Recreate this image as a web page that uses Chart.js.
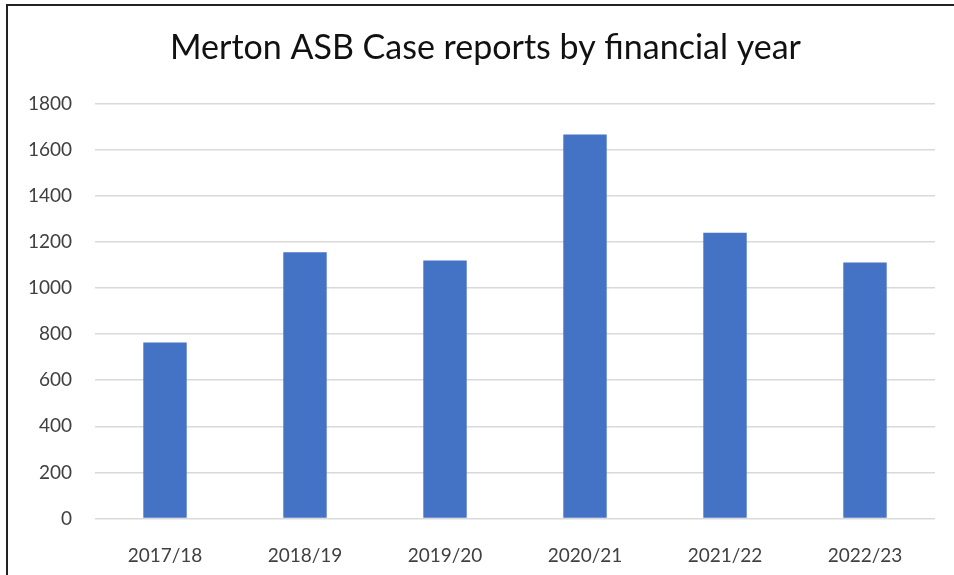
<!DOCTYPE html>
<html>
<head>
<meta charset="utf-8">
<script src="https://cdn.jsdelivr.net/npm/chart.js@4/dist/chart.umd.min.js"></script>
<style>
    html, body { margin: 0; padding: 0; background: #fff; }
    #wrap { position: relative; width: 954px; height: 575px; overflow: hidden; }
    #frame {
        position: absolute; left: 6px; top: 4px; width: 1000px; height: 700px;
        border: 2px solid #222; pointer-events: none;
    }
</style>
</head>
<body>
<div id="wrap">
    <canvas id="chart" width="954" height="575"></canvas>
    <div id="frame"></div>
</div>
<script>
var years = ["2017/18", "2018/19", "2019/20", "2020/21", "2021/22", "2022/23"];
var caseReports = [764, 1155, 1120, 1666, 1240, 1111];
var yTicks = [0, 200, 400, 600, 800, 1000, 1200, 1400, 1600, 1800];

var tickFont = { family: "Lato, 'Open Sans', sans-serif", size: 19 };

new Chart(document.getElementById("chart"), {
    type: 'bar',
    data: {
        labels: years,
        datasets: [{
            data: caseReports,
            backgroundColor: '#4472C4',
            borderWidth: 0,
            barPercentage: 0.31,
            categoryPercentage: 1
        }]
    },
    options: {
        responsive: false,
        animation: false,
        // left padding shifts the title centre to match the framed area
        layout: { padding: { left: 17, right: 0, top: 0, bottom: 0 } },
        plugins: {
            legend: { display: false },
            tooltip: { enabled: false },
            title: {
                display: true,
                text: 'Merton ASB Case reports by financial year',
                color: '#111',
                font: { family: "Lato, 'Open Sans', sans-serif", size: 34, weight: 'normal', lineHeight: 1.2 },
                padding: { top: 27.6, bottom: 35.3 }
            }
        },
        scales: {
            x: {
                grid: { display: false },
                border: { display: false },
                ticks: { color: '#404040', font: tickFont, padding: 18, maxRotation: 0 },
                afterFit: function (scale) { scale.height = 56.5; }
            },
            y: {
                min: 0,
                max: 1800,
                afterBuildTicks: function (scale) {
                    scale.ticks = yTicks.map(function (v) { return { value: v }; });
                },
                grid: { color: '#d9d9d9', lineWidth: 1.5, drawTicks: false },
                border: { display: false },
                ticks: {
                    color: '#404040', font: tickFont, padding: 23,
                    callback: function (value) { return String(value); }
                },
                afterFit: function (scale) { scale.width = 78; }
            },
            // empty right axis, only keeps space on the right of the plot
            yRight: {
                position: 'right',
                min: 0,
                max: 1800,
                grid: { display: false },
                border: { display: false },
                ticks: { display: false },
                afterFit: function (scale) { scale.width = 19; }
            }
        }
    }
});
</script>
</body>
</html>
